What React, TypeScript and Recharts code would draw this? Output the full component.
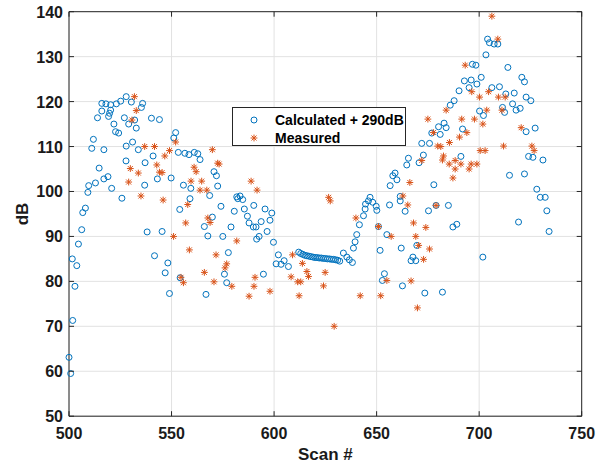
import React from 'react';
import { ScatterChart, Scatter, XAxis, YAxis, CartesianGrid, Legend } from 'recharts';

// Calculated level (+290 dB offset) per scan
const calcScan = [
  527.9, 530.4, 525.2, 523.1, 516.0, 518.0, 520.3, 516.0, 520.3, 519.8, 519.3, 513.9,
  535.9, 535.3, 527.0, 532.0, 540.2, 544.1, 529.1, 532.8, 521.9, 522.7, 524.2, 552.0,
  551.1, 511.9, 511.1, 517.0, 527.9, 531.0, 533.8, 553.3, 556.5, 541.0, 537.1, 527.8,
  514.7, 519.0, 517.0, 512.9, 509.6, 509.2, 520.8, 543.1, 549.8, 536.9, 555.8, 525.8,
  508.0, 506.7, 554.0, 506.2, 538.1, 545.4, 504.6, 501.6, 503.8, 541.7, 548.2, 546.9,
  502.9, 554.2, 549.0, 501.8, 500.0, 500.8,
  558.5, 561.1, 562.8, 563.9, 570.7, 571.9, 572.5, 559.4, 568.6, 559.0, 574.1, 580.6,
  581.8, 583.4, 582.3, 584.7, 585.5, 590.1, 595.6, 598.9, 569.9, 587.0, 587.8, 589.9,
  591.2, 593.7, 598.0, 566.0, 579.0, 567.7, 575.0, 591.5, 592.7, 596.6, 599.7, 577.7,
  602.1, 601.0, 603.4, 604.9, 607.0, 575.8, 576.9, 594.8, 566.8,
  612, 613, 614, 615, 616, 617, 618, 619, 620, 621, 622, 623, 624, 625, 626, 627, 628,
  629, 630, 631, 632,
  633.8, 635.5, 636.7, 638.2, 638.7, 639.5, 640.3, 641.6, 643.6, 644.4, 650.1, 650.9,
  651.7, 655.0, 656.3, 662.0, 663.9, 667.7, 669.1, 666.8, 653.8, 652.8, 662.6, 673.5,
  646.8, 646.0, 648.1, 644.6, 649.8, 665.5, 664.7, 659.0, 657.9, 659.9, 656.6, 661.5,
  661.5,
  704.1, 705.0, 707.3, 709.1, 703.3, 696.7, 698.4, 714.0, 692.8, 696.1, 701.0, 720.8,
  722.1, 695.1, 698.9, 706.2, 709.9, 690.2, 687.8, 685.9, 713.0, 717.1, 722.9, 725.2,
  716.3, 720.0, 718.0, 711.4, 712.4, 700.2, 702.1, 682.9, 680.2, 683.9, 691.9, 676.9,
  681.0, 727.3, 722.9, 672.0, 675.8, 724.1, 726.2, 731.1, 672.8, 670.7, 691.1, 714.8,
  722.1, 677.9, 728.1, 729.8, 732.2, 733.0, 675.3, 679.0, 685.0, 687.2, 689.1, 719.2,
  734.1, 669.6, 701.8, 682.1,
];
const calcDb = [
  121.1, 119.9, 120.1, 119.5, 119.6, 119.5, 119.3, 117.9, 118.1, 117.4, 116.7, 116.4,
  119.6, 118.7, 116.4, 115.9, 116.3, 116.0, 115.0, 114.1, 115.0, 113.3, 113.0, 113.1,
  111.9, 111.6, 109.6, 109.3, 110.1, 111.0, 109.3, 108.7, 108.5, 107.9, 106.4, 106.8,
  105.2, 103.3, 102.8, 101.9, 101.3, 99.8, 100.7, 102.8, 103.0, 101.4, 101.4, 98.5,
  96.3, 95.3, 96.0, 91.5, 91.0, 91.1, 88.3, 85.0, 83.5, 85.7, 84.1, 81.9,
  78.9, 80.8, 77.3, 71.3, 63.1, 59.5,
  108.2, 108.7, 108.4, 107.1, 104.4, 103.5, 101.2, 100.7, 99.1, 98.4, 96.7, 95.6,
  98.8, 99.0, 98.4, 98.2, 96.1, 96.9, 96.1, 95.2, 94.3, 94.5, 93.0, 92.1,
  92.1, 93.3, 93.6, 92.2, 92.1, 90.1, 90.0, 89.4, 90.0, 91.1, 88.7, 86.4,
  85.9, 83.9, 83.8, 84.6, 83.3, 81.6, 79.7, 81.6, 77.1,
  86.5, 86.2, 86.0, 85.8, 85.7, 85.6, 85.5, 85.4, 85.3, 85.3, 85.2, 85.2, 85.1, 85.1,
  85.0, 85.0, 84.9, 84.9, 84.8, 84.7, 84.5,
  86.3, 85.4, 84.8, 84.2, 87.4, 88.8, 90.4, 92.6, 94.6, 96.1, 95.8, 92.2,
  86.9, 90.4, 97.0, 87.4, 95.6, 85.4, 84.6, 84.6, 81.7, 80.2, 79.0, 77.4,
  98.7, 97.9, 97.6, 97.2, 96.7, 107.4, 105.9, 104.1, 103.5, 102.6, 101.3, 97.9,
  98.9,
  133.9, 133.1, 132.8, 132.8, 130.4, 128.3, 128.1, 127.6, 124.6, 124.8, 125.4, 125.4,
  124.4, 123.1, 123.9, 123.1, 123.3, 122.4, 120.2, 119.2, 121.7, 121.9, 121.0, 120.2,
  119.5, 118.5, 118.1, 118.7, 117.6, 117.9, 116.9, 115.2, 114.4, 114.2, 113.9, 113.0,
  112.7, 114.1, 113.3, 110.7, 110.7, 107.8, 107.6, 107.0, 108.1, 106.4, 107.8, 103.6,
  103.9, 101.5, 100.5, 98.7, 98.7, 95.7, 95.7, 96.9, 96.9, 92.1, 92.7, 93.2,
  91.1, 88.0, 85.4, 77.6,
];

// Measured level per scan
const measScan = [
  531.9, 532.8, 530.7, 536.9, 541.7, 549.0, 546.7, 552.0, 529.9, 542.8, 533.8, 544.1,
  545.4, 529.1, 535.1, 545.9, 551.0, 554.6, 555.8, 556.9,
  569.9, 572.5, 573.2, 561.0, 562.0, 559.5, 564.7, 563.9, 567.2, 588.8, 591.7, 557.9,
  567.7, 568.8, 581.8, 558.7, 571.7, 576.9, 576.1, 566.0, 570.7, 579.4, 590.7, 590.2,
  587.8, 598.0, 609.0, 613.8, 608.3, 611.5, 613.0, 612.2,
  639.9, 650.9, 657.1, 662.8, 665.2, 668.0, 669.1, 670.5, 672.9, 616.0, 616.8, 624.9,
  624.1, 642.0, 652.0, 655.0, 666.8, 669.9, 629.3, 626.6, 627.4,
  706.2, 709.1, 693.2, 696.4, 700.2, 704.6, 709.4, 712.7, 683.9, 703.7, 711.1, 675.0,
  691.5, 697.7, 701.8, 677.7, 694.0, 690.4, 720.5, 685.5, 679.8, 681.3, 711.9, 725.7,
  726.8, 700.5, 702.9, 682.6, 682.1, 672.0, 685.4, 688.3, 691.1, 688.3, 695.1, 696.1,
  698.9, 687.2, 666.2, 679.0, 674.0, 675.8,
];
const measDb = [
  121.1, 118.0, 115.9, 110.0, 110.0, 109.1, 107.9, 111.0, 105.1, 105.9, 104.1, 104.3,
  104.2, 102.1, 99.0, 98.1, 90.0, 80.9, 79.7, 93.0,
  109.3, 106.3, 106.1, 105.4, 104.4, 102.3, 102.3, 100.3, 100.3, 102.3, 100.3, 97.1,
  94.1, 93.1, 89.0, 87.0, 85.9, 83.9, 83.0, 82.0, 79.9, 78.9, 80.9, 78.9,
  76.7, 77.8, 85.9, 84.0, 81.0, 79.9, 79.9, 76.8,
  94.1, 92.2, 90.0, 99.0, 97.0, 93.0, 90.0, 88.0, 84.9, 82.2, 81.1, 82.0,
  79.0, 76.8, 76.8, 80.2, 80.1, 74.1, 70.0, 98.7, 97.9,
  139.0, 133.9, 128.1, 122.2, 121.0, 122.2, 121.0, 121.0, 118.1, 118.1, 118.1, 116.1,
  116.1, 116.1, 115.0, 113.1, 113.1, 112.1, 114.2, 110.9, 110.1, 110.0, 110.1, 110.1,
  109.1, 109.1, 109.1, 107.9, 107.0, 106.9, 106.1, 106.9, 106.1, 105.0, 105.0, 106.1,
  106.1, 103.0, 102.0, 96.9, 92.0, 87.2,
];

const scanTicks = [500, 550, 600, 650, 700, 750];
const dbTicks = [50, 60, 70, 80, 90, 100, 110, 120, 130, 140];

const calcPoints = calcScan.map((x, i) => ({ x, y: calcDb[i] }));
const measPoints = measScan.map((x, i) => ({ x, y: measDb[i] }));

const W = 608;
const H = 465;
const PLOT_TOP = 11.7;
const PLOT_BOTTOM = 416.2;
const PLOT_LEFT = 69;
const PLOT_RIGHT = 581.7;
// each axis band is 1px thick, so the margins leave room for it
const MARGIN = { top: PLOT_TOP - 1, right: W - PLOT_RIGHT - 1, bottom: H - PLOT_BOTTOM - 1, left: PLOT_LEFT - 1 };

const FONT = '"Liberation Sans", Arial, Helvetica, sans-serif';
const BLUE = '#0072BD';
const ORANGE = '#D95319';
const AXIS = '#262626';
const GRID = '#e2e2e2';
const TICK_LEN = 5;

const CircleMark = (p: any) => (
  <circle cx={p.cx} cy={p.cy} r={3} fill="none" stroke={BLUE} strokeWidth={1} />
);

const StarMark = (p: any) => {
  const { cx, cy } = p;
  const a = 3.4;
  const d = 2.5;
  return (
    <g stroke={ORANGE} strokeWidth={1}>
      <line x1={cx - a} y1={cy} x2={cx + a} y2={cy} />
      <line x1={cx} y1={cy - a} x2={cx} y2={cy + a} />
      <line x1={cx - d} y1={cy - d} x2={cx + d} y2={cy + d} />
      <line x1={cx - d} y1={cy + d} x2={cx + d} y2={cy - d} />
    </g>
  );
};

// Bottom tick: label below the box, inward tick marks on bottom and top edges
const ScanTick = (p: any) => {
  const { x, payload } = p;
  return (
    <g>
      <line x1={x} x2={x} y1={PLOT_BOTTOM} y2={PLOT_BOTTOM - TICK_LEN} stroke={AXIS} />
      <line x1={x} x2={x} y1={PLOT_TOP} y2={PLOT_TOP + TICK_LEN} stroke={AXIS} />
      <text x={x} y={PLOT_BOTTOM + 23} textAnchor="middle" fontFamily={FONT} fontSize={16} fontWeight="bold" fill="#1a1a1a">
        {payload.value}
      </text>
    </g>
  );
};

// Left tick: label left of the box, inward tick marks on left and right edges
const DbTick = (p: any) => {
  const { y, payload } = p;
  return (
    <g>
      <line x1={PLOT_LEFT} x2={PLOT_LEFT + TICK_LEN} y1={y} y2={y} stroke={AXIS} />
      <line x1={PLOT_RIGHT} x2={PLOT_RIGHT - TICK_LEN} y1={y} y2={y} stroke={AXIS} />
      <text x={PLOT_LEFT - 6} y={y + 6} textAnchor="end" fontFamily={FONT} fontSize={16} fontWeight="bold" fill="#1a1a1a">
        {payload.value}
      </text>
    </g>
  );
};

const ScanTitle = () => (
  <text x={(PLOT_LEFT + PLOT_RIGHT) / 2} y={H - 5} textAnchor="middle" fontFamily={FONT} fontSize={17} fontWeight="bold" fill="#1a1a1a">
    Scan #
  </text>
);

const DbTitle = () => {
  const cx = 28;
  const cy = (PLOT_TOP + PLOT_BOTTOM) / 2;
  return (
    <text x={cx} y={cy} transform={`rotate(-90, ${cx}, ${cy})`} textAnchor="middle" fontFamily={FONT} fontSize={17} fontWeight="bold" fill="#1a1a1a">
      dB
    </text>
  );
};

const LegendBox = (props: any) => {
  const items = props.payload || [];
  return (
    <div
      style={{
        width: 174,
        height: 39,
        boxSizing: 'border-box',
        border: `1px solid ${AXIS}`,
        background: '#fff',
        position: 'relative',
        fontFamily: FONT,
        fontSize: 14,
        fontWeight: 'bold',
        color: '#000',
      }}
    >
      {items.map((it: any, i: number) => (
        <div key={i} style={{ position: 'absolute', left: 0, top: i === 0 ? 2.5 : 21, height: 18, width: 172, lineHeight: '18px' }}>
          <svg width={14} height={18} style={{ position: 'absolute', left: 14, top: 0 }}>
            {i === 0 ? <CircleMark cx={7} cy={9} /> : <StarMark cx={7} cy={9} />}
          </svg>
          <span style={{ position: 'absolute', left: 42, top: 0, whiteSpace: 'nowrap' }}>{it.value}</span>
        </div>
      ))}
    </div>
  );
};

export default function App() {
  return (
    <div style={{ position: 'absolute', left: 0, top: 0, width: W, height: H, background: '#fff' }}>
      <ScatterChart width={W} height={H} margin={MARGIN}>
        <CartesianGrid stroke={GRID} strokeWidth={1} />
        <XAxis
          type="number"
          dataKey="x"
          domain={[500, 750]}
          ticks={scanTicks}
          height={1}
          tickLine={false}
          tickSize={0}
          axisLine={{ stroke: AXIS }}
          tick={<ScanTick />}
          label={<ScanTitle />}
          interval={0}
        />
        <YAxis
          type="number"
          dataKey="y"
          domain={[50, 140]}
          ticks={dbTicks}
          width={1}
          tickLine={false}
          tickSize={0}
          axisLine={{ stroke: AXIS }}
          tick={<DbTick />}
          label={<DbTitle />}
          interval={0}
        />
        <XAxis xAxisId="top" orientation="top" type="number" domain={[500, 750]} height={1} tick={false} tickLine={false} axisLine={{ stroke: AXIS }} />
        <YAxis yAxisId="right" orientation="right" type="number" domain={[50, 140]} width={1} tick={false} tickLine={false} axisLine={{ stroke: AXIS }} />
        <Legend
          verticalAlign="middle"
          align="center"
          layout="horizontal"
          wrapperStyle={{ left: 232, top: 107, width: 174, height: 39 }}
          content={<LegendBox />}
        />
        <Scatter name="Calculated + 290dB" data={calcPoints} shape={<CircleMark />} isAnimationActive={false} />
        <Scatter name="Measured" data={measPoints} shape={<StarMark />} isAnimationActive={false} />
      </ScatterChart>
    </div>
  );
}
